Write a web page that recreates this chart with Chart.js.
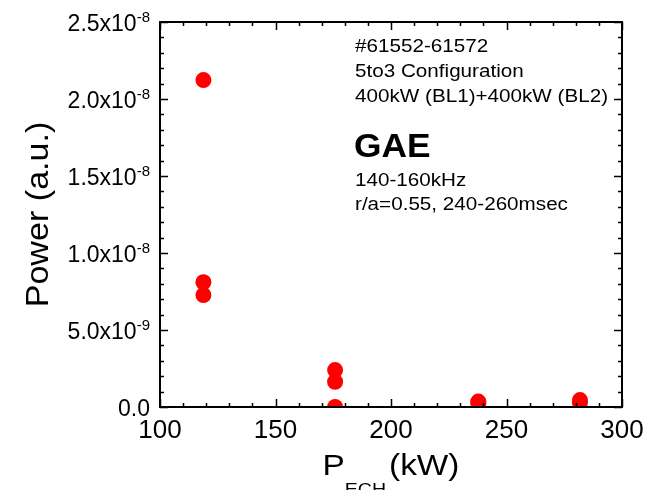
<!DOCTYPE html>
<html>
<head>
<meta charset="utf-8">
<script src="https://cdn.jsdelivr.net/npm/chart.js@4"></script>
<style>
  html, body { margin: 0; padding: 0; background: #fff; }
  #wrap { width: 662px; height: 490px; }
</style>
</head>
<body>
<div id="wrap"><canvas id="power-chart" width="662" height="490"></canvas></div>
<script>
// ECH power (kW) and GAE fluctuation power (a.u.)
const pechKW = [118.8, 118.8, 118.8, 175.8, 175.8, 175.8, 237.8, 237.8, 281.8, 281.8];
const gaePower = [2.123e-8, 0.81e-8, 0.727e-8, 0.24e-8, 0.164e-8, 0.0, 0.035e-8, 0.025e-8, 0.045e-8, 0.03e-8];

// axis ticks
const xTicks = [100, 150, 200, 250, 300];
const yTicks = [0, 5e-9, 1e-8, 1.5e-8, 2e-8, 2.5e-8];
const yTickText = [['0.0', ''], ['5.0x10', '-9'], ['1.0x10', '-8'], ['1.5x10', '-8'], ['2.0x10', '-8'], ['2.5x10', '-8']];

// annotation block
const infoLines = ['#61552-61572', '5to3 Configuration', '400kW (BL1)+400kW (BL2)'];
const infoTitle = 'GAE';
const infoLines2 = ['140-160kHz', 'r/a=0.55, 240-260msec'];

const FONT = 'Arial, "Liberation Sans", sans-serif';

// text a bit wider than Arial, like the original figure
function wideText(ctx, text, x, y, sx) {
    ctx.save();
    ctx.translate(x, y);
    ctx.scale(sx, 1);
    ctx.fillText(text, 0, 0);
    ctx.restore();
}

// frame, inward ticks, labels and text drawn on top of the plot
const framePlugin = {
    id: 'frame',
    afterDraw(chart) {
        const ctx = chart.ctx;
        const a = chart.chartArea;
        const xs = chart.scales.x;
        const ys = chart.scales.y;
        ctx.save();
        ctx.strokeStyle = '#000';
        ctx.lineWidth = 2;
        ctx.strokeRect(a.left, a.top, a.right - a.left, a.bottom - a.top);

        ctx.lineWidth = 1.5;
        ctx.beginPath();
        // x ticks, minor every 10
        for (let v = 100; v <= 300; v += 10) {
            const px = Math.round(xs.getPixelForValue(v)) + 0.5;
            const len = (v % 50 === 0) ? 8 : 4;
            ctx.moveTo(px, a.bottom); ctx.lineTo(px, a.bottom - len);
            ctx.moveTo(px, a.top); ctx.lineTo(px, a.top + len);
        }
        // y ticks, minor every 1e-9
        for (let i = 0; i <= 25; i++) {
            const py = Math.round(ys.getPixelForValue(i * 1e-9)) + 0.5;
            const len = (i % 5 === 0) ? 8 : 4;
            ctx.moveTo(a.left, py); ctx.lineTo(a.left + len, py);
            ctx.moveTo(a.right, py); ctx.lineTo(a.right - len, py);
        }
        ctx.stroke();

        ctx.fillStyle = '#000';
        // x tick labels
        ctx.font = '26px ' + FONT;
        ctx.textAlign = 'center';
        ctx.textBaseline = 'alphabetic';
        xTicks.forEach(v => {
            ctx.fillText(String(v), xs.getPixelForValue(v), 438);
        });

        // y tick labels with exponent
        yTicks.forEach((v, i) => {
            const py = ys.getPixelForValue(v);
            const [base, sup] = yTickText[i];
            const right = a.left - 10;
            ctx.textAlign = 'right';
            ctx.font = '15px ' + FONT;
            const supW = sup ? ctx.measureText(sup).width : 0;
            if (sup) ctx.fillText(sup, right, py);
            ctx.font = '23px ' + FONT;
            ctx.fillText(base, right - supW, py + 8.5);
        });

        // x title with subscript
        const sx = 1.15;
        ctx.textAlign = 'left';
        ctx.font = '29px ' + FONT;
        const pW = ctx.measureText('P').width * sx;
        const restW = ctx.measureText('(kW)').width * sx;
        ctx.font = '17px ' + FONT;
        const subW = ctx.measureText('ECH').width * sx;
        const gap = 3;
        let tx = (a.left + a.right) / 2 - (pW + subW + gap + restW) / 2;
        ctx.font = '29px ' + FONT;
        wideText(ctx, 'P', tx, 475, sx);
        wideText(ctx, '(kW)', tx + pW + subW + gap, 475, sx);
        ctx.font = '17px ' + FONT;
        wideText(ctx, 'ECH', tx + pW, 495, sx);

        // y title
        ctx.save();
        ctx.translate(48, (a.top + a.bottom) / 2);
        ctx.rotate(-Math.PI / 2);
        ctx.scale(1.1, 1);
        ctx.textAlign = 'center';
        ctx.font = '31px ' + FONT;
        ctx.fillText('Power (a.u.)', 0, 0);
        ctx.restore();

        // annotation
        ctx.textAlign = 'left';
        ctx.font = '17.5px ' + FONT;
        infoLines.forEach((s, i) => wideText(ctx, s, 355, 52 + i * 25, 1.18));
        ctx.font = 'bold 33px ' + FONT;
        wideText(ctx, infoTitle, 354, 157, 1.07);
        ctx.font = '17.5px ' + FONT;
        infoLines2.forEach((s, i) => wideText(ctx, s, 355, 186 + i * 24, 1.18));
        ctx.restore();
    }
};

const chart = new Chart(document.getElementById('power-chart'), {
    type: 'scatter',
    data: {
        datasets: [{
            label: 'GAE',
            data: pechKW.map((x, i) => ({ x: x, y: gaePower[i] })),
            backgroundColor: '#ff0000',
            borderWidth: 0,
            pointRadius: 8,
            pointHoverRadius: 8,
            clip: 0
        }]
    },
    options: {
        responsive: false,
        animation: false,
        layout: {
            padding: { left: 160, right: 40, top: 22, bottom: 83 }
        },
        scales: {
            x: {
                type: 'linear',
                min: 100,
                max: 300,
                grid: { display: false, drawTicks: false },
                border: { display: false },
                ticks: { display: false }
            },
            y: {
                type: 'linear',
                min: 0,
                max: 2.5e-8,
                grid: { display: false, drawTicks: false },
                border: { display: false },
                ticks: { display: false }
            }
        },
        plugins: {
            legend: { display: false },
            tooltip: { enabled: false }
        }
    },
    plugins: [framePlugin]
});
</script>
</body>
</html>
